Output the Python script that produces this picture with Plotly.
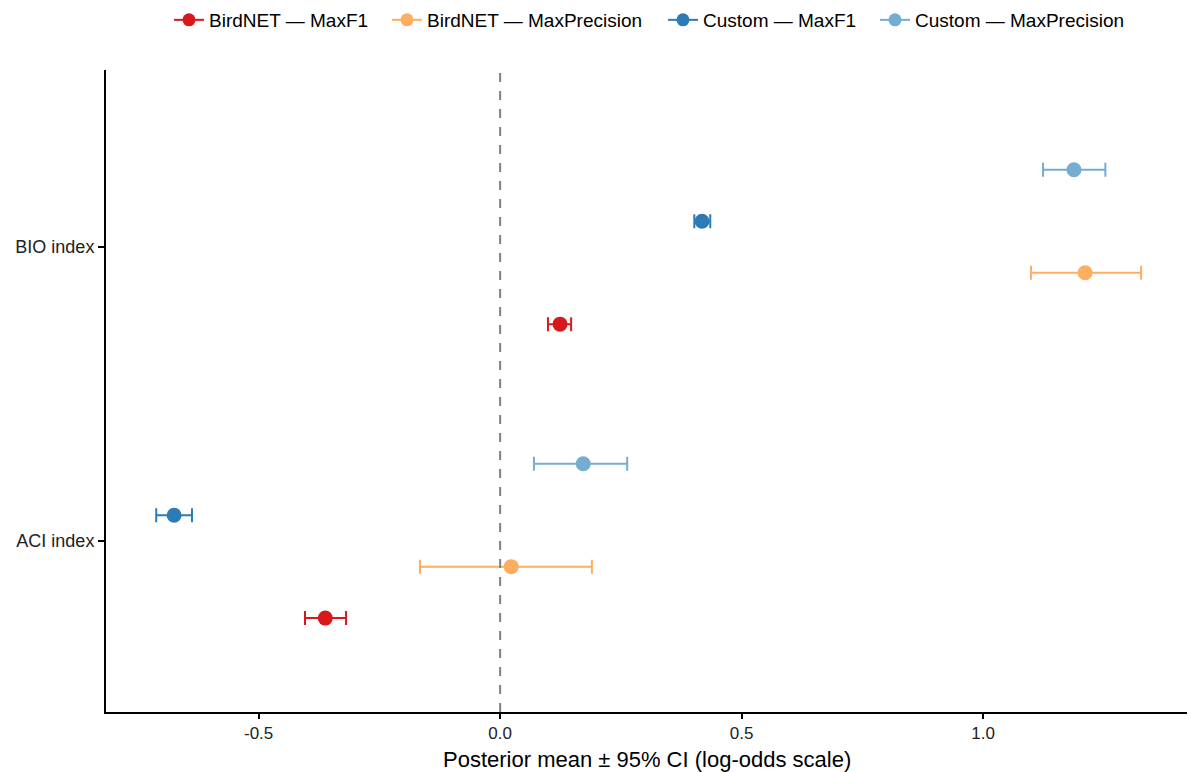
import plotly.graph_objects as go

# Posterior summaries (log-odds scale)
indices = ["ACI index", "BIO index"]
series = ["BirdNET — MaxF1", "BirdNET — MaxPrecision", "Custom — MaxF1", "Custom — MaxPrecision"]
colors = ["#D7191C", "#FDAE61", "#2C7BB6", "#74ADD1"]
x_title = "Posterior mean ± 95% CI (log-odds scale)"

# mean, lower, upper per series, ordered as indices (ACI, BIO)
birdnet_maxf1_mean = [-0.362, 0.124]
birdnet_maxf1_lo = [-0.404, 0.099]
birdnet_maxf1_hi = [-0.319, 0.147]

birdnet_maxprec_mean = [0.023, 1.211]
birdnet_maxprec_lo = [-0.166, 1.099]
birdnet_maxprec_hi = [0.190, 1.327]

custom_maxf1_mean = [-0.675, 0.418]
custom_maxf1_lo = [-0.712, 0.402]
custom_maxf1_hi = [-0.638, 0.435]

custom_maxprec_mean = [0.172, 1.188]
custom_maxprec_lo = [0.070, 1.124]
custom_maxprec_hi = [0.263, 1.253]

means = [birdnet_maxf1_mean, birdnet_maxprec_mean, custom_maxf1_mean, custom_maxprec_mean]
lows = [birdnet_maxf1_lo, birdnet_maxprec_lo, custom_maxf1_lo, custom_maxprec_lo]
highs = [birdnet_maxf1_hi, birdnet_maxprec_hi, custom_maxf1_hi, custom_maxprec_hi]

# dodge offsets within each category (width 0.7, 4 groups)
dodge = [-0.2625, -0.0875, 0.0875, 0.2625]

W, H = 1189, 772
M_L, M_R, M_T, M_B = 106, 2, 70, 60
# left edge (px) of each legend entry along the top strip
legend_left_px = [169, 387, 663, 875]
legend_ids = ["legend", "legend2", "legend3", "legend4"]

fig = go.Figure()
for k, name in enumerate(series):
    ys = [i + 1 + dodge[k] for i in range(len(indices))]
    fig.add_trace(go.Scatter(
        x=means[k], y=ys, mode="markers",
        marker=dict(color=colors[k], size=15),
        error_x=dict(type="data", symmetric=False,
                     array=[h - m for h, m in zip(highs[k], means[k])],
                     arrayminus=[m - l for m, l in zip(means[k], lows[k])],
                     color=colors[k], thickness=2, width=7),
        showlegend=False, name=name,
    ))
    # legend key: line through point
    fig.add_trace(go.Scatter(
        x=[None], y=[None], mode="lines+markers", name=name,
        line=dict(color=colors[k], width=2),
        marker=dict(color=colors[k], size=13),
        legend=legend_ids[k],
    ))

fig.add_vline(x=0, line=dict(color="#808080", width=2, dash="dash"))

legend_style = dict(orientation="h", xref="container", yref="container",
                    xanchor="left", yanchor="middle", y=1 - 20 / H,
                    font=dict(size=19, color="black"), itemwidth=30,
                    bgcolor="rgba(0,0,0,0)", borderwidth=0)

plot_h = H - M_T - M_B
fig.add_annotation(text=x_title, xref="paper", yref="paper",
                   x=0.5, y=-(759 - (H - M_B)) / plot_h,
                   xanchor="center", yanchor="middle", showarrow=False,
                   font=dict(size=22, color="black"))

fig.update_layout(
    width=W, height=H,
    paper_bgcolor="white", plot_bgcolor="white",
    margin=dict(l=M_L, r=M_R, t=M_T, b=M_B),
    font=dict(family="Liberation Sans, Arial, sans-serif", color="black"),
    xaxis=dict(range=[-0.816, 1.422], tickvals=[-0.5, 0.0, 0.5, 1.0],
               ticktext=["-0.5", "0.0", "0.5", "1.0"],
               showgrid=False, zeroline=False, showline=True, linecolor="black", linewidth=2,
               ticks="outside", ticklen=5, tickwidth=2, tickcolor="black",
               tickfont=dict(size=17, color="#222222")),
    yaxis=dict(range=[0.418, 2.602], tickvals=[1, 2], ticktext=indices,
               showgrid=False, zeroline=False, showline=True, linecolor="black", linewidth=2,
               ticks="outside", ticklen=6, tickwidth=2, tickcolor="black",
               tickfont=dict(size=18, color="#222222")),
)
for lid, px in zip(legend_ids, legend_left_px):
    fig.update_layout({lid: dict(legend_style, x=px / W)})

fig.write_html("out.html")
